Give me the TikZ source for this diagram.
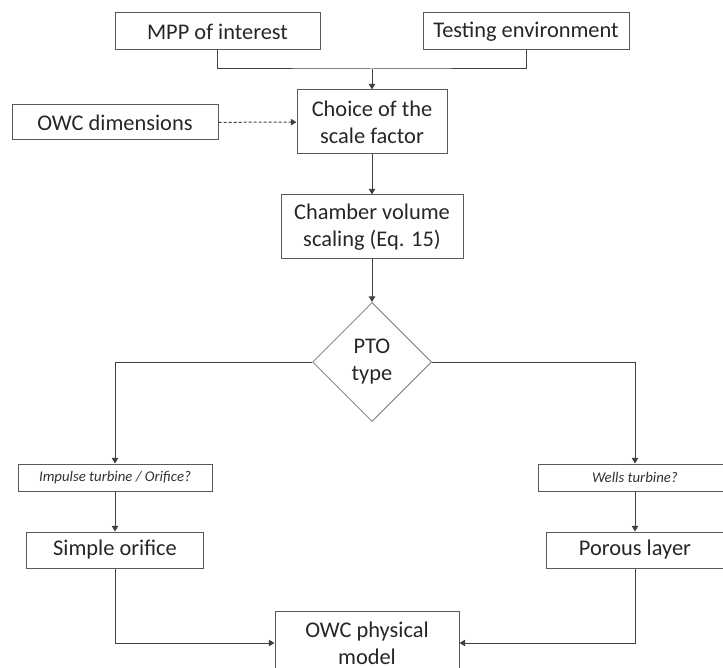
\documentclass[tikz,border=0pt]{standalone}
\usepackage{fontspec}
\setmainfont{Carlito}
\usetikzlibrary{arrows.meta, shapes.geometric}

\begin{document}
\begin{tikzpicture}[x=0.5pt, y=-0.5pt,
    box/.style={draw=black!65, line width=0.5pt, text=black!85, align=center, inner sep=0pt,
        font=\fontsize{11.2}{13.5}\selectfont},
    qbox/.style={draw=black!65, line width=0.5pt, text=black!80, inner sep=0pt,
        minimum width=97pt, minimum height=13.5pt, font=\fontsize{7.4}{9}\selectfont\itshape},
    wire/.style={draw=black!75, line width=0.5pt},
    link/.style={wire, -{Triangle[length=2.8pt, width=3.2pt]}}]
    \clip (0,0) rectangle (723,668);
    \node[box, minimum width=102.5pt, minimum height=18.5pt] (MPP) at (217.5,31.5){MPP of interest};
    \node[box, minimum width=103pt, minimum height=18.5pt] (TE) at (526,31.5){Testing environment};
    \node[box, minimum width=75pt, minimum height=32pt] (SF) at (372,122){Choice of the\\scale factor};
    \node[box, minimum width=103pt, minimum height=17.5pt] (OD) at (115,122.5){OWC dimensions};
    \node[box, minimum width=91pt, minimum height=32pt] (CV) at (372,227){Chamber volume\\scaling (Eq. 15)};
    \node[box, draw=black!45, diamond, shape aspect=1, minimum width=59.5pt, minimum height=59.5pt] (PTO) at (372,362){PTO\\type};
    \node[qbox] (IT) at (115,477.5){Impulse turbine / Orifice?};
    \node[qbox] (WT) at (635,477.5){Wells turbine?};
    \node[box, minimum width=88.5pt, minimum height=18pt] (SO) at (115,550){Simple orifice};
    \node[box, minimum width=88.5pt, minimum height=18pt] (PL) at (635,550){Porous layer};
    \node[box, minimum width=92pt, minimum height=32pt] (OWC) at (367,643){OWC physical\\model};
    \coordinate (J) at (372,69);
    \draw[wire] (MPP.south) |- (J) -| (TE.south);
    \draw[link] (J)--(SF.north);
    \draw[link, dash pattern=on 1.5pt off 1pt] (OD)--(SF);
    \draw[link] (SF)--(CV);
    \draw[link] (CV)--(PTO.north);
    \draw[link] (PTO.west) -| (IT.north);
    \draw[link] (PTO.east) -| (WT.north);
    \draw[link] (IT)--(SO);
    \draw[link] (WT)--(PL);
    \draw[link] (SO.south) |- (OWC.west);
    \draw[link] (PL.south) |- (OWC.east);
\end{tikzpicture}
\end{document}
